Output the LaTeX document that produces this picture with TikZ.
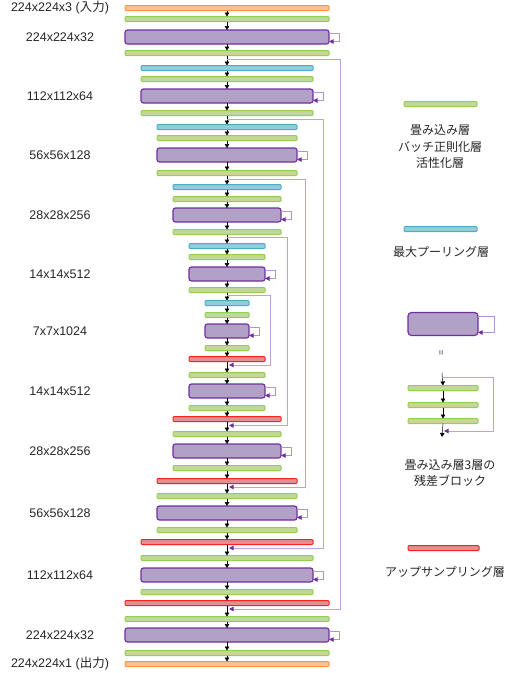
\documentclass[tikz,border=0pt]{standalone}
\usepackage{fontspec}
\setmainfont{Liberation Sans}
\newfontfamily\jp{Noto Sans CJK JP}
\usetikzlibrary{arrows.meta}
\definecolor{gf}{HTML}{C4D79B}
\definecolor{gd}{HTML}{92D050}
\definecolor{bf}{HTML}{93CDDD}
\definecolor{bd}{HTML}{4BACC6}
\definecolor{pf}{HTML}{B2A1C7}
\definecolor{pd}{HTML}{7030A0}
\definecolor{rf}{HTML}{E0908F}
\definecolor{rd}{HTML}{FF2020}
\definecolor{of}{HTML}{FAC090}
\definecolor{od}{HTML}{F79646}
\definecolor{sk}{HTML}{BBA3DC}
\definecolor{lp}{HTML}{B095D8}
\definecolor{txt}{HTML}{262626}
\begin{document}
\begin{tikzpicture}[x=1pt,y=-1pt,
  thinbar/.style={rectangle,inner sep=0pt,outer sep=0pt,minimum height=5pt,rounded corners=1pt,line width=1pt},
  gbar/.style={thinbar,draw=gd,fill=gf},
  bbar/.style={thinbar,draw=bd,fill=bf},
  rbar/.style={thinbar,draw=rd,fill=rf},
  obar/.style={thinbar,draw=od,fill=of},
  pbox/.style={rectangle,inner sep=0pt,outer sep=0pt,minimum height=14pt,rounded corners=2.5pt,line width=1.2pt,draw=pd,fill=pf},
  flow/.style={line width=0.5pt,black,-{Triangle[length=4pt,width=4.5pt]}},
  skipline/.style={line width=0.9pt,sk,-{Triangle[length=4.5pt,width=4.5pt,color=pd]}},
  looparrow/.style={line width=0.9pt,lp,-{Triangle[length=4.5pt,width=4.5pt,color=pd]}},
  lab/.style={inner sep=0pt,text=txt,font=\fontsize{12.5}{15}\selectfont},
  jlab/.style={inner sep=0pt,text=txt,align=center,font=\jp\fontsize{12}{16.5}\selectfont}]
\useasboundingbox (0,0) rectangle (507,673);

% ---- main stack ----
\node[obar,minimum width=204pt] (L1) at (227,8) {};
\node[gbar,minimum width=204pt] (L2) at (227,19) {};
\node[pbox,minimum width=204pt] (L3) at (227,37) {};
\node[gbar,minimum width=204pt] (L4) at (227,53) {};
\node[bbar,minimum width=172pt] (L5) at (227,68) {};
\node[gbar,minimum width=172pt] (L6) at (227,79) {};
\node[pbox,minimum width=172pt] (L7) at (227,96) {};
\node[gbar,minimum width=172pt] (L8) at (227,113) {};
\node[bbar,minimum width=140pt] (L9) at (227,127) {};
\node[gbar,minimum width=140pt] (L10) at (227,138) {};
\node[pbox,minimum width=140pt] (L11) at (227,155) {};
\node[gbar,minimum width=140pt] (L12) at (227,173) {};
\node[bbar,minimum width=108pt] (L13) at (227,187) {};
\node[gbar,minimum width=108pt] (L14) at (227,199) {};
\node[pbox,minimum width=108pt] (L15) at (227,215) {};
\node[gbar,minimum width=108pt] (L16) at (227,232) {};
\node[bbar,minimum width=76pt] (L17) at (227,246) {};
\node[gbar,minimum width=76pt] (L18) at (227,257) {};
\node[pbox,minimum width=76pt] (L19) at (227,274) {};
\node[gbar,minimum width=76pt] (L20) at (227,290) {};
\node[bbar,minimum width=44pt] (L21) at (227,303) {};
\node[gbar,minimum width=44pt] (L22) at (227,315) {};
\node[pbox,minimum width=44pt] (L23) at (227,331) {};
\node[gbar,minimum width=44pt] (L24) at (227,348) {};
\node[rbar,minimum width=76pt] (L25) at (227,359) {};
\node[gbar,minimum width=76pt] (L26) at (227,375) {};
\node[pbox,minimum width=76pt] (L27) at (227,391) {};
\node[gbar,minimum width=76pt] (L28) at (227,408) {};
\node[rbar,minimum width=108pt] (L29) at (227,419) {};
\node[gbar,minimum width=108pt] (L30) at (227,434) {};
\node[pbox,minimum width=108pt] (L31) at (227,451) {};
\node[gbar,minimum width=108pt] (L32) at (227,468) {};
\node[rbar,minimum width=140pt] (L33) at (227,481) {};
\node[gbar,minimum width=140pt] (L34) at (227,496) {};
\node[pbox,minimum width=140pt] (L35) at (227,513) {};
\node[gbar,minimum width=140pt] (L36) at (227,530) {};
\node[rbar,minimum width=172pt] (L37) at (227,542) {};
\node[gbar,minimum width=172pt] (L38) at (227,558) {};
\node[pbox,minimum width=172pt] (L39) at (227,575) {};
\node[gbar,minimum width=172pt] (L40) at (227,592) {};
\node[rbar,minimum width=204pt] (L41) at (227,603) {};
\node[gbar,minimum width=204pt] (L42) at (227,619) {};
\node[pbox,minimum width=204pt] (L43) at (227,635) {};
\node[gbar,minimum width=204pt] (L44) at (227,653) {};
\node[obar,minimum width=204pt] (L45) at (227,664) {};

% flow arrows
\foreach \i in {1,...,44}{
  \pgfmathtruncatemacro{\j}{\i+1}
  \draw[flow] (L\i.south) -- (L\j.north);
}

% loops around purple boxes
\foreach \k in {3,7,11,15,19,23,27,31,35,39,43}{
  \draw[looparrow] ([yshift=-3pt]L\k.north east) -- ++(10,0) |- ([yshift=2.5pt]L\k.south east);
}

% skip connections
\coordinate (s1a) at (227,59);  \coordinate (s1b) at (229,609);
\coordinate (s2a) at (227,119); \coordinate (s2b) at (229,548);
\coordinate (s3a) at (227,179); \coordinate (s3b) at (229,487);
\coordinate (s4a) at (227,237); \coordinate (s4b) at (229,425.5);
\coordinate (s5a) at (227,295); \coordinate (s5b) at (229,365);
\draw[skipline] (s1a) -- (340,59) |- (s1b);
\draw[skipline] (s2a) -- (323,119) |- (s2b);
\draw[skipline] (s3a) -- (305,179) |- (s3b);
\draw[skipline] (s4a) -- (287,237) |- (s4b);
\draw[skipline] (s5a) -- (270,295) |- (s5b);

% left labels
\node[lab] (t1) at (60,8) {224x224x3 ({\jp 入力})};
\node[lab] (t2) at (60,37) {224x224x32};
\node[lab] (t3) at (60,96) {112x112x64};
\node[lab] (t4) at (60,155) {56x56x128};
\node[lab] (t5) at (60,215) {28x28x256};
\node[lab] (t6) at (60,274) {14x14x512};
\node[lab] (t7) at (60,331) {7x7x1024};
\node[lab] (t8) at (60,391) {14x14x512};
\node[lab] (t9) at (60,451) {28x28x256};
\node[lab] (t10) at (60,513) {56x56x128};
\node[lab] (t11) at (60,575) {112x112x64};
\node[lab] (t12) at (60,635) {224x224x32};
\node[lab] (t13) at (60,664) {224x224x1 ({\jp 出力})};

% ---- legend ----
\node[gbar,minimum width=73pt] (lg) at (440.5,104) {};
\node[jlab] (lgt) at (440,147) {畳み込み層\\バッチ正則化層\\活性化層};
\node[bbar,minimum width=73pt] (lb) at (440.5,229) {};
\node[jlab] (lbt) at (441,252) {最大プーリング層};
\node[pbox,minimum width=70pt,minimum height=23pt,rounded corners=3.5pt] (lp) at (443,324) {};
\draw[looparrow] ([yshift=-4pt]lp.north east) -- ++(16,0) |- ([yshift=3pt]lp.south east);
\node[inner sep=0pt,rotate=90,text=txt,font=\fontsize{9}{9}\selectfont] (eq) at (442,353) {=};
\coordinate (lt) at (442,373);
\node[gbar,minimum width=70pt] (lg1) at (443,388) {};
\node[gbar,minimum width=70pt] (lg2) at (443,405) {};
\node[gbar,minimum width=70pt] (lg3) at (443,421) {};
\coordinate (lend) at (442,437);
\coordinate (lsa) at (442,377);
\coordinate (lsb) at (444,431);
\draw[flow] (lt) -- (lg1.north);
\draw[flow] (lg1.south) -- (lg2.north);
\draw[flow] (lg2.south) -- (lg3.north);
\draw[flow] (lg3.south) -- (lend);
\draw[skipline] (lsa) -- (493,377) |- (lsb);
\node[jlab] (lrt) at (450,473) {畳み込み層3層の\\残差ブロック};
\node[rbar,minimum width=71pt] (lr) at (443.5,548) {};
\node[jlab] (lrt2) at (445,572) {アップサンプリング層};
\end{tikzpicture}
\end{document}
